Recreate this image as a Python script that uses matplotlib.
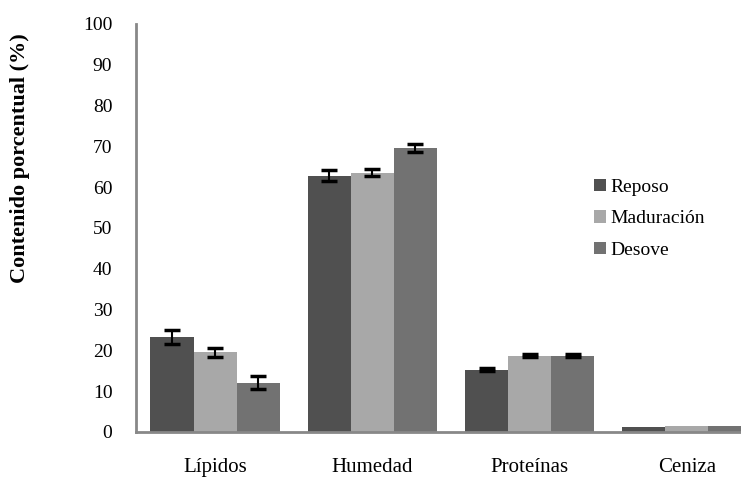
import matplotlib
matplotlib.use("Agg")
import matplotlib.pyplot as plt
import numpy as np

categories = ["Lípidos", "Humedad", "Proteínas", "Ceniza"]
series = ["Reposo", "Maduración", "Desove"]
reposo = [23.3, 62.8, 15.3, 1.2]
maduracion = [19.6, 63.6, 18.7, 1.5]
desove = [12.1, 69.6, 18.7, 1.5]
err_reposo = [1.8, 1.4, 0.3, 0.0]
err_maduracion = [1.1, 0.8, 0.3, 0.0]
err_desove = [1.6, 0.9, 0.3, 0.0]

colors = ["#505050", "#a8a8a8", "#727272"]

plt.rcParams['font.family'] = ['Liberation Serif', 'DejaVu Serif']

fig = plt.figure(figsize=(7.41, 4.8), dpi=100)
ax = fig.add_axes([0.1835, 0.1, 0.8165, 0.85])

x = np.arange(len(categories))
w = 0.274
vals = [reposo, maduracion, desove]
errs = [err_reposo, err_maduracion, err_desove]
for i, (v, e) in enumerate(zip(vals, errs)):
    pos = x + (i - 1) * w
    ax.bar(pos, v, w, color=colors[i], label=series[i], zorder=2)
    mask = np.array(e) > 0
    ax.errorbar(pos[mask], np.array(v)[mask], yerr=np.array(e)[mask], fmt='none',
                ecolor='black', elinewidth=1.5, capsize=6, capthick=2.5, zorder=3)

ax.set_xlim(-0.503, 3.344)
ax.set_ylim(0, 100)
ax.set_yticks(range(0, 101, 10))
ax.set_xticks(x)
ax.set_xticklabels(categories, fontsize=15)
ax.tick_params(axis='y', labelsize=14, length=0, pad=17)
ax.tick_params(axis='x', length=0, pad=19)
for s in ['top', 'right']:
    ax.spines[s].set_visible(False)
for s in ['left', 'bottom']:
    ax.spines[s].set_color('#888888')
    ax.spines[s].set_linewidth(2)

ax.set_ylabel("Contenido porcentual (%)", fontsize=16, fontweight='bold')
ax.yaxis.set_label_coords(-0.175, 0.672)

ax.legend(loc='upper left', bbox_to_anchor=(0.745, 0.64), frameon=False, fontsize=14,
          handlelength=0.6, handleheight=0.6, handletextpad=0.2, labelspacing=0.75,
          borderaxespad=0)

fig.savefig("out.png", dpi=100)
